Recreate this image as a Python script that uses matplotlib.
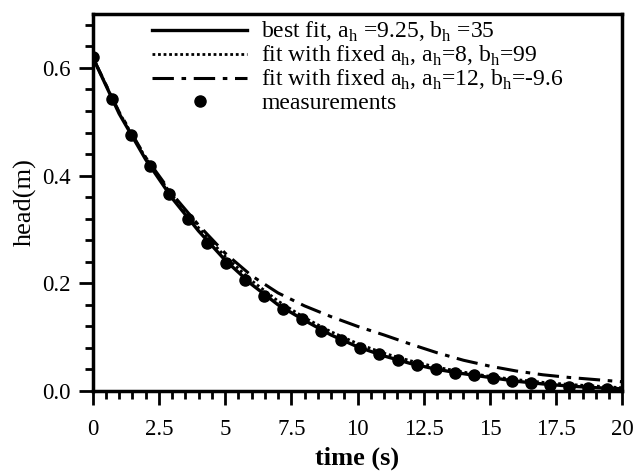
import numpy as np
from matplotlib import pyplot as plt
from matplotlib.ticker import MultipleLocator

plt.rcParams["font.family"] = ["Liberation Serif", "DejaVu Serif"]
plt.rcParams["mathtext.fontset"] = "custom"
plt.rcParams["mathtext.rm"] = "Liberation Serif"

# measurements
meas_t = np.arange(28) * 0.72
meas_h = [0.62, 0.543, 0.476, 0.417, 0.366, 0.320, 0.275, 0.238, 0.207, 0.177,
          0.152, 0.134, 0.111, 0.094, 0.080, 0.069, 0.057, 0.048, 0.041, 0.034,
          0.029, 0.024, 0.019, 0.015, 0.011, 0.008, 0.005, 0.003]

# fitted curves, read at 1 s steps
curve_t = np.arange(21)
best_fit = [0.62, 0.515, 0.43, 0.358, 0.297, 0.243, 0.198, 0.160, 0.131, 0.104, 0.082,
            0.065, 0.051, 0.040, 0.032, 0.025, 0.018, 0.013, 0.009, 0.006, 0.004]
fixed_a8 = [0.62, 0.517, 0.433, 0.363, 0.303, 0.250, 0.205, 0.167, 0.136, 0.110, 0.088,
            0.070, 0.056, 0.044, 0.035, 0.027, 0.021, 0.016, 0.012, 0.009, 0.006]
fixed_a12 = [0.62, 0.518, 0.434, 0.366, 0.308, 0.256, 0.214, 0.182, 0.158, 0.138, 0.120,
             0.104, 0.087, 0.071, 0.057, 0.046, 0.037, 0.030, 0.025, 0.021, 0.017]

labels = [
    r"best fit, a$_\mathregular{h}$ =9.25, b$_\mathregular{h}$ =35",
    r"fit with fixed a$_\mathregular{h}$, a$_\mathregular{h}$=8, b$_\mathregular{h}$=99",
    r"fit with fixed a$_\mathregular{h}$, a$_\mathregular{h}$=12, b$_\mathregular{h}$=-9.6",
    "measurements",
]

fig = plt.figure(figsize=(6.35, 4.71), dpi=100)
ax = fig.add_axes([0.146, 0.17, 0.834, 0.80])

ax.plot(curve_t, best_fit, "k-", lw=2.4, label=labels[0])
ax.plot(curve_t, fixed_a8, color="k", ls=(0, (1, 1)), lw=2.0, label=labels[1])
ax.plot(curve_t, fixed_a12, color="k", ls=(0, (7, 2.5, 1.5, 2.5)), lw=2.2, label=labels[2])
ax.plot(meas_t, meas_h, "ko", ms=8, ls="none", label=labels[3])

ax.set_xlim(0, 20)
ax.set_ylim(0, 0.70)
ax.xaxis.set_minor_locator(MultipleLocator(0.5))
ax.yaxis.set_minor_locator(MultipleLocator(0.04))
ax.set_xticks(np.arange(0, 20.1, 2.5))
ax.set_xticklabels(["0", "2.5", "5", "7.5", "10", "12.5", "15", "17.5", "20"])
ax.set_yticks([0.0, 0.2, 0.4, 0.6])
ax.set_yticklabels(["0.0", "0.2", "0.4", "0.6"])

ax.tick_params(which="major", direction="out", length=10, width=2, labelsize=16.5)
ax.tick_params(which="minor", direction="out", length=5.5, width=2)
ax.tick_params(axis="x", pad=10)
ax.tick_params(axis="y", pad=6)
for s in ax.spines.values():
    s.set_linewidth(2.5)

ax.set_xlabel("time (s)", fontsize=19, fontweight="bold", labelpad=5)
ax.set_ylabel("head(m)", fontsize=19, labelpad=4)

ax.legend(loc="upper left", bbox_to_anchor=(0.095, 1.01), frameon=False, fontsize=17,
          handlelength=4.0, handletextpad=0.6, labelspacing=0.0, borderaxespad=0.0,
          numpoints=1)

fig.savefig("out.png", dpi=100)
